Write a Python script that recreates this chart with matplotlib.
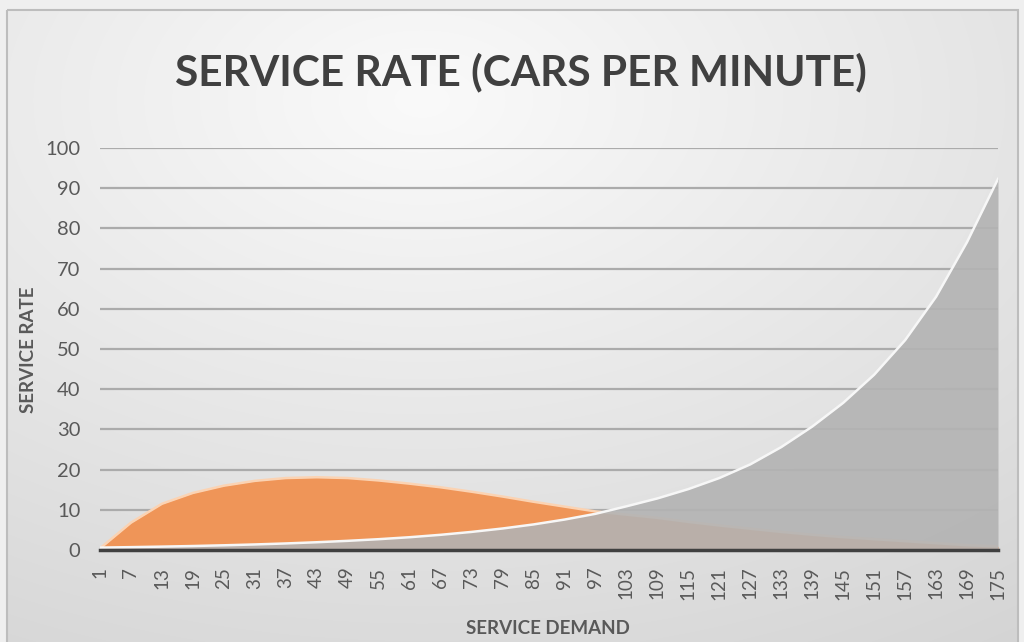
import numpy as np
import matplotlib
matplotlib.use("Agg")
import matplotlib.pyplot as plt
from matplotlib.patches import Rectangle

# ---- data ----
demand = [1, 7, 13, 19, 25, 31, 37, 43, 49, 55, 61, 67, 73, 79, 85, 91, 97,
          103, 109, 115, 121, 127, 133, 139, 145, 151, 157, 163, 169, 175]
series_orange = [0.4, 6.8, 11.5, 14.2, 16.0, 17.2, 17.9, 18.1, 17.9, 17.3, 16.5,
                 15.6, 14.5, 13.3, 12.0, 10.8, 9.6, 8.8, 8.0, 7.0, 6.1, 5.3,
                 4.5, 3.8, 3.2, 2.7, 2.2, 1.7, 1.2, 0.9]
series_gray = [0.6, 0.71, 0.84, 0.99, 1.17, 1.38, 1.63, 1.93, 2.28, 2.69, 3.18,
               3.78, 4.5, 5.35, 6.36, 7.57, 9.0, 10.87, 12.83, 15.15, 17.9,
               21.3, 25.6, 30.7, 36.6, 43.6, 52.2, 63.0, 76.6, 92.3]
y_ticks = list(range(0, 101, 10))
x_tick_labels = [str(v) for v in demand]

title = "SERVICE RATE (CARS PER MINUTE)"
xlabel = "SERVICE DEMAND"
ylabel = "SERVICE RATE"

W, H = 1024, 642
fig = plt.figure(figsize=(W / 100, H / 100), dpi=100)
fig.patch.set_facecolor("#efefef")

# ---- background gradient ----
bg = fig.add_axes([0, 0, 1, 1], zorder=-10)
bg.set_xlim(0, W)
bg.set_ylim(H, 0)
bg.axis("off")
yy, xx = np.mgrid[0:H, 0:W]
r = np.sqrt(((xx - 420) / 900.0) ** 2 + ((yy - 90) / 560.0) ** 2)
v = np.clip(250 - 32 * r, 205, 252) / 255.0
img = np.dstack([v, v, v])
bg.imshow(img, extent=(7, 1018, 650, 10), aspect="auto", zorder=0)
bg.add_patch(Rectangle((7, 10), 1011, 640, fill=False, edgecolor="#bdbdbd",
                       lw=1.5, zorder=1))

# ---- main axes ----
left, right = 100 / W, 998 / W
bottom, top = (H - 550) / H, (H - 148) / H
ax = fig.add_axes([left, bottom, right - left, top - bottom])
ax.patch.set_alpha(0)

ax.fill_between(demand, series_orange, 0, color="#ef9558", lw=0, zorder=2)
ax.plot(demand, series_orange, color="#fbd3b3", lw=1.8, zorder=2.5)
ax.fill_between(demand, series_gray, 0, color="#b3b3b3", alpha=0.9, lw=0, zorder=3)
ax.plot(demand, series_gray, color="#f7f7f7", lw=1.8, zorder=3.5)

ax.set_xlim(1, 175)
ax.set_ylim(0, 100)
ax.set_yticks(y_ticks)
ax.set_xticks(demand)
ax.set_xticklabels(x_tick_labels, rotation=90)
for s in ["top", "right", "left"]:
    ax.spines[s].set_visible(False)
ax.spines["bottom"].set_color("#404040")
ax.spines["bottom"].set_linewidth(2.5)
ax.spines["bottom"].set_zorder(5)
ax.yaxis.grid(True, color="#ababab", lw=1.6, zorder=1)
ax.set_axisbelow(True)
ax.tick_params(axis="y", length=0, pad=14, labelsize=14.5, labelcolor="#595959")
ax.tick_params(axis="x", length=0, pad=12, labelsize=13.5, labelcolor="#595959")
for t in ax.get_xticklabels() + ax.get_yticklabels():
    t.set_fontfamily("Lato")

fig.text(521 / W, 1 - 72 / H, title, ha="center", va="center",
         fontsize=30.5, fontweight="bold", color="#404040", family="Lato")
fig.text(548 / W, 1 - 628 / H, xlabel, ha="center", va="center",
         fontsize=13.5, fontweight="bold", color="#595959", family="Lato")
fig.text(28 / W, 1 - 350 / H, ylabel, ha="center", va="center", rotation=90,
         fontsize=13.5, fontweight="bold", color="#595959", family="Lato")

fig.savefig("out.png", dpi=100)
